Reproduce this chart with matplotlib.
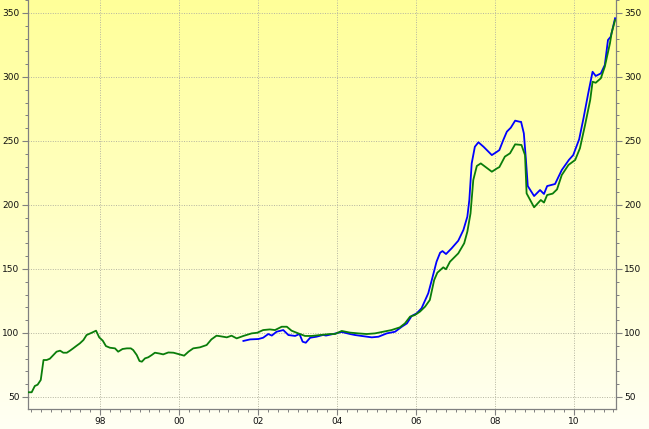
import numpy as np
import matplotlib
matplotlib.use("Agg")
import matplotlib.pyplot as plt
from matplotlib.colors import LinearSegmentedColormap
from matplotlib.ticker import MultipleLocator, FixedLocator

# Serie verde (desde 1996)
verde_x = [1996.18, 1996.27, 1996.35, 1996.42, 1996.50, 1996.57, 1996.65, 1996.73, 1996.82, 1996.90,
           1996.99, 1997.07, 1997.16, 1997.24, 1997.32, 1997.41, 1997.49, 1997.58, 1997.66, 1997.79,
           1997.90, 1997.98, 1998.07, 1998.15, 1998.25, 1998.38, 1998.46, 1998.57, 1998.68, 1998.78,
           1998.84, 1998.93, 1999.00, 1999.06, 1999.14, 1999.22, 1999.31, 1999.39, 1999.50, 1999.60,
           1999.73, 1999.86, 1999.98, 2000.13, 2000.24, 2000.36, 2000.53, 2000.70, 2000.82, 2000.95,
           2001.04, 2001.21, 2001.33, 2001.46, 2001.63, 2001.84, 2001.98, 2002.13, 2002.30, 2002.43,
           2002.60, 2002.73, 2002.85, 2003.02, 2003.19, 2003.36, 2003.57, 2003.82, 2003.95, 2004.12,
           2004.33, 2004.54, 2004.75, 2004.96, 2005.17, 2005.38, 2005.59, 2005.72, 2005.85, 2005.97,
           2006.10, 2006.23, 2006.35, 2006.46, 2006.54, 2006.69, 2006.76, 2006.86, 2007.07, 2007.22,
           2007.30, 2007.38, 2007.45, 2007.54, 2007.64, 2007.77, 2007.92, 2008.05, 2008.11, 2008.25,
           2008.38, 2008.51, 2008.67, 2008.76, 2008.80, 2008.99, 2009.16, 2009.24, 2009.32, 2009.46,
           2009.57, 2009.69, 2009.86, 2010.03, 2010.15, 2010.28, 2010.41, 2010.47, 2010.55, 2010.68,
           2010.78, 2010.91, 2010.95, 2011.04]
verde_y = [53.7, 53.7, 58.6, 59.6, 63.3, 78.9, 78.9, 79.9, 82.8, 85.4,
           86.2, 84.6, 84.6, 86.2, 88.0, 90.1, 91.9, 94.5, 98.4, 100.2,
           101.8, 96.6, 94.0, 89.8, 88.5, 88.0, 85.4, 87.5, 88.0, 88.0,
           86.7, 82.8, 78.1, 77.6, 80.2, 81.0, 82.8, 84.6, 84.0, 83.3,
           84.8, 84.6, 83.6, 82.3, 85.4, 88.0, 88.8, 90.6, 95.0, 97.9,
           97.5, 96.6, 97.9, 95.8, 97.7, 99.7, 100.2, 102.3, 102.8, 102.3,
           104.9, 104.9, 101.8, 99.7, 97.7, 97.7, 98.4, 99.2, 99.2, 101.6,
           100.3, 99.7, 99.2, 99.7, 101.0, 102.3, 104.4, 107.5, 112.8, 114.0,
           116.7, 120.6, 125.8, 141.4, 147.1, 151.3, 149.8, 155.7, 162.2, 170.1,
           179.2, 193.4, 219.5, 230.5, 232.5, 229.5, 226.0, 228.6, 229.6, 237.8,
           240.4, 247.4, 246.9, 239.0, 209.1, 198.2, 203.9, 201.9, 207.8, 208.9,
           212.2, 223.4, 231.3, 235.2, 244.3, 262.5, 282.0, 296.3, 295.5, 299.0,
           308.1, 326.3, 334.1, 344.5]

# Serie azul (desde 2001)
azul_x = [2001.63, 2001.80, 2002.01, 2002.13, 2002.26, 2002.35, 2002.47, 2002.64, 2002.77, 2002.94,
          2003.05, 2003.13, 2003.21, 2003.32, 2003.48, 2003.65, 2003.72, 2003.90, 2004.12, 2004.33,
          2004.46, 2004.62, 2004.88, 2005.05, 2005.26, 2005.47, 2005.64, 2005.77, 2005.89, 2006.02,
          2006.14, 2006.31, 2006.40, 2006.52, 2006.61, 2006.67, 2006.76, 2006.90, 2007.07, 2007.20,
          2007.30, 2007.35, 2007.41, 2007.49, 2007.58, 2007.71, 2007.92, 2008.05, 2008.11, 2008.21,
          2008.30, 2008.40, 2008.51, 2008.63, 2008.66, 2008.73, 2008.78, 2008.83, 2008.99, 2009.14,
          2009.24, 2009.32, 2009.52, 2009.69, 2009.87, 2009.98, 2010.13, 2010.24, 2010.36, 2010.47,
          2010.55, 2010.68, 2010.78, 2010.86, 2010.93, 2011.04]
azul_y = [93.8, 95.0, 95.3, 96.3, 99.2, 98.0, 101.0, 102.3, 98.4, 97.7,
          99.2, 93.2, 92.4, 96.3, 97.1, 98.5, 98.0, 99.2, 100.8, 99.2,
          98.4, 97.7, 96.6, 97.1, 99.7, 101.0, 104.9, 107.5, 113.3, 115.4,
          119.3, 131.0, 141.4, 155.7, 162.7, 164.0, 161.7, 166.1, 172.1, 180.5,
          190.9, 203.9, 232.5, 245.5, 249.0, 245.5, 239.0, 241.6, 242.9, 250.8,
          257.3, 260.4, 265.9, 265.0, 265.0, 256.0, 236.5, 214.8, 207.0, 211.7,
          208.6, 214.8, 216.4, 227.3, 235.2, 239.0, 251.3, 267.7, 287.2, 304.1,
          300.8, 302.8, 309.4, 328.9, 331.5, 345.9]

etiquetas_x = ["98", "00", "02", "04", "06", "08", "10"]
posiciones_x = [1998, 2000, 2002, 2004, 2006, 2008, 2010]

W, H = 649, 429
fig = plt.figure(figsize=(W / 100, H / 100), dpi=100)

# Fondo degradado amarillo -> casi blanco
fondo = fig.add_axes([0, 0, 1, 1], zorder=-1)
cmap = LinearSegmentedColormap.from_list("fondo", ["#ffff99", "#ffffc4", "#fffff4"])
grad = np.linspace(0, 1, 256).reshape(-1, 1)
fondo.imshow(grad, aspect="auto", cmap=cmap, extent=[0, 1, 0, 1], origin="upper")
fondo.axis("off")

ax = fig.add_axes([28 / W, 20 / H, 588 / W, 409 / H])
ax.set_facecolor("none")

x0 = 1998 + (28 - 100) / 39.5
x1 = 1998 + (616 - 100) / 39.5
ax.set_xlim(x0, x1)
ax.set_ylim(50 - 12 / 1.28, 350 + 13 / 1.28)

ax.plot(azul_x, azul_y, color="#0000ff", lw=1.3, zorder=3)
ax.plot(verde_x, verde_y, color="#0a7d0a", lw=1.3, zorder=4)

gris = "#808080"
for lado in ["left", "right", "bottom"]:
    ax.spines[lado].set_color(gris)
    ax.spines[lado].set_linewidth(0.9)
ax.spines["top"].set_visible(False)

ax.xaxis.set_major_locator(FixedLocator(posiciones_x))
ax.set_xticklabels(etiquetas_x)
ax.xaxis.set_minor_locator(MultipleLocator(0.25))
ax.yaxis.set_major_locator(MultipleLocator(50))
ax.yaxis.set_minor_locator(MultipleLocator(10))

ax.tick_params(axis="both", which="major", direction="out", length=4, width=0.8,
               color=gris, labelsize=6.5, labelcolor="#111111", pad=2)
ax.tick_params(axis="both", which="minor", direction="out", length=2.5, width=0.7, color=gris)
ax.tick_params(axis="y", which="both", left=True, right=True, labelleft=True, labelright=True)

ax.grid(True, which="major", color="#b4b4a0", linestyle=(0, (1, 1.5)), linewidth=0.7)

fig.savefig("out.png", dpi=100)
